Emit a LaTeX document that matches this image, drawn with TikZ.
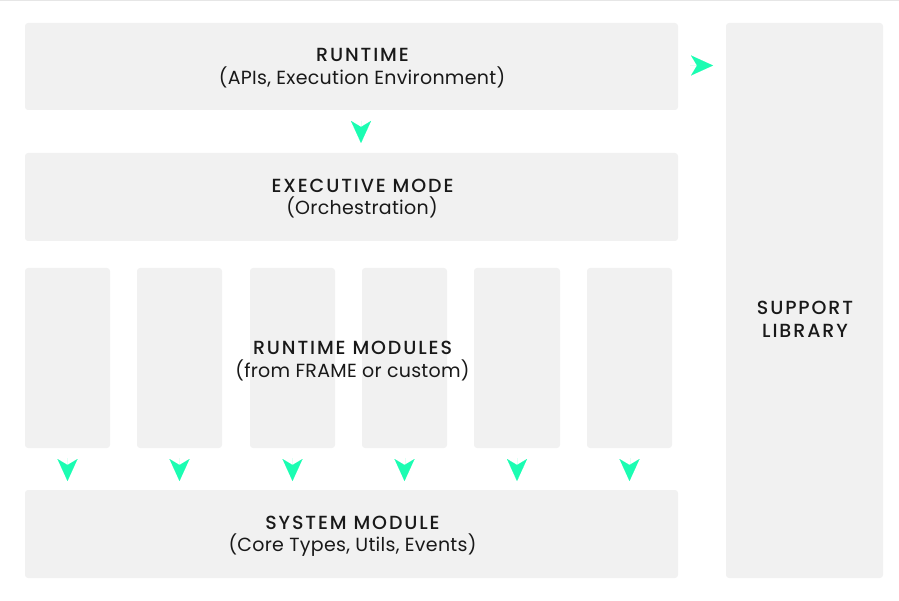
\documentclass[tikz,border=0pt]{standalone}
\usepackage{fontspec}
\setmainfont{Poppins}
\newfontfamily\titlefont{Poppins Medium}[LetterSpace=10]
\newfontfamily\subfont{Poppins}[LetterSpace=1.5]
\usetikzlibrary{arrows.meta}
\definecolor{boxgray}{HTML}{F1F1F1}
\definecolor{linegray}{HTML}{E6E6E6}
\definecolor{arrowc}{HTML}{1BFDB2}
\begin{document}
\begin{tikzpicture}[x=1pt,y=-1pt,
  box/.style={fill=boxgray, draw=none, rounded corners=3pt, inner sep=0pt, outer sep=0pt},
  lbl/.style={anchor=base, inner sep=0pt, text=black!90, font=\fontsize{19}{23}\selectfont},
  tipc/.style={draw=arrowc, line width=0.01pt, -{Stealth[length=22pt,width=20pt,inset=6pt,fill=arrowc,color=arrowc]}}]
\useasboundingbox (0,0) rectangle (899,601);
\draw[linegray, line width=1.2pt] (0,0.6) -- (899,0.6);
% boxes
\node[box, minimum width=653pt, minimum height=87pt, anchor=north west] (rt) at (25,23) {};
\node[box, minimum width=653pt, minimum height=88pt, anchor=north west] (ex) at (25,153) {};
\node[box, minimum width=653pt, minimum height=88pt, anchor=north west] (sys) at (25,490) {};
\node[box, minimum width=157pt, minimum height=555pt, anchor=north west] (sup) at (726,23) {};
\foreach \i/\x/\w in {1/25/85, 2/137/85, 3/250/85, 4/362/85, 5/474/86, 6/587/85} {
  \node[box, minimum width=\w pt, minimum height=180pt, anchor=north west] (m\i) at (\x,268) {};
}
% labels
\node[lbl] (rtt) at (362.5,61.9) {\titlefont RUNTIME};
\node[lbl] (rts) at (362,84.4) {\subfont (APIs, Execution Environment)};
\node[lbl] (ext) at (362.5,192.4) {\titlefont EXECUTIVE MODE};
\node[lbl] (exs) at (362,214.9) {\subfont (Orchestration)};
\node[lbl] (mdt) at (352.5,354.6) {\titlefont RUNTIME MODULES};
\node[lbl] (mds) at (352.5,377.6) {\subfont (from FRAME or custom)};
\node[lbl] (syt) at (352.5,529.4) {\titlefont SYSTEM MODULE};
\node[lbl] (sys2) at (352.5,551.9) {\subfont (Core Types, Utils, Events)};
\node[lbl] (sut) at (805,315) {\titlefont SUPPORT};
\node[lbl] (sub) at (805,337.5) {\titlefont LIBRARY};
% arrows
\draw[tipc, shorten <=11pt, shorten >=10pt] ([xshift=9.5pt]rt.south) -- ([xshift=9.5pt]rt.south |- ex.north);
\draw[tipc, shorten <=12pt, shorten >=13pt] ([yshift=1pt]rt.east) -- ([yshift=1pt]rt.east -| sup.west);
\foreach \i in {1,...,6} {
  \draw[tipc, shorten <=10pt, shorten >=9pt] (m\i.south) -- (m\i.south |- sys.north);
}
\end{tikzpicture}
\end{document}
